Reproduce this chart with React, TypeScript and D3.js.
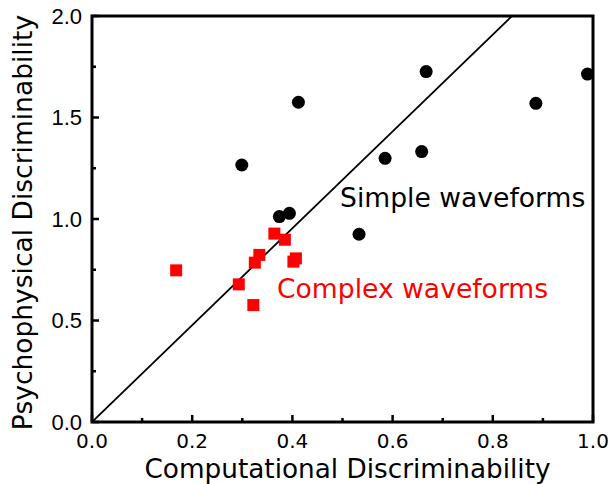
import React from "react";
import * as d3 from "d3";

// Simple waveforms: [computational, psychophysical]
const simpleX = [0.299, 0.412, 0.667, 0.989, 0.886, 0.585, 0.658, 0.374, 0.394, 0.533];
const simpleY = [1.266, 1.575, 1.726, 1.714, 1.57, 1.299, 1.332, 1.012, 1.028, 0.925];

// Complex waveforms
const complexX = [0.168, 0.364, 0.385, 0.334, 0.325, 0.407, 0.402, 0.293, 0.322];
const complexY = [0.747, 0.928, 0.898, 0.823, 0.785, 0.806, 0.79, 0.678, 0.576];

const xMajor = [0, 0.2, 0.4, 0.6, 0.8, 1.0];
const xMinor = [0.1, 0.3, 0.5, 0.7, 0.9];
const yMajor = [0, 0.5, 1.0, 1.5, 2.0];
const yMinor = [0.25, 0.75, 1.25, 1.75];

// fitted line through the origin
const fitSlope = 2.386;

const W = 610;
const H = 484;
const M = { left: 92, right: 17, top: 16, bottom: 62 };

export default function App() {
  const x = d3.scaleLinear().domain([0, 1]).range([M.left, W - M.right]);
  const y = d3.scaleLinear().domain([0, 2]).range([H - M.bottom, M.top]);
  const x0 = x.range()[0], x1 = x.range()[1];
  const y0 = y.range()[0], y1 = y.range()[1];
  const fitEnd = Math.min(1, 2 / fitSlope);
  const line = d3.line<number>().x((d) => x(d)).y((d) => y(d * fitSlope));
  const yTickFont = "'Liberation Sans', Arial, sans-serif";
  const font = "'DejaVu Sans', Verdana, sans-serif";
  const sq = 12;

  return (
    <svg width={W} height={H} style={{ position: "absolute", left: 0, top: 0, background: "#fff" }}>
      <defs>
        <clipPath id="plot">
          <rect x={x0} y={y1} width={x1 - x0} height={y0 - y1} />
        </clipPath>
      </defs>
      <path d={line([0, fitEnd]) || ""} stroke="#000" strokeWidth={1.8} fill="none" clipPath="url(#plot)" />

      {complexX.map((v, i) => (
        <rect key={"c" + i} x={x(v) - sq / 2} y={y(complexY[i]) - sq / 2} width={sq} height={sq} fill="#ff0000" />
      ))}
      {simpleX.map((v, i) => (
        <circle key={"s" + i} cx={x(v)} cy={y(simpleY[i])} r={6.5} fill="#000" />
      ))}

      {/* frame */}
      <rect x={x0} y={y1} width={x1 - x0} height={y0 - y1} fill="none" stroke="#000" strokeWidth={3} />

      {/* x ticks */}
      {xMajor.map((t) => (
        <g key={"xm" + t}>
          <line x1={x(t)} x2={x(t)} y1={y0} y2={y0 - 7} stroke="#000" strokeWidth={2.5} />
          <text x={x(t)} y={y0 + 26} textAnchor="middle" fontFamily={font} fontSize={20} fill="#000">
            {t.toFixed(1)}
          </text>
        </g>
      ))}
      {xMinor.map((t) => (
        <line key={"xn" + t} x1={x(t)} x2={x(t)} y1={y0} y2={y0 - 4} stroke="#000" strokeWidth={2.5} />
      ))}

      {/* y ticks */}
      {yMajor.map((t) => (
        <g key={"ym" + t}>
          <line x1={x0} x2={x0 + 7} y1={y(t)} y2={y(t)} stroke="#000" strokeWidth={2.5} />
          <text x={x0 - 10} y={y(t) + 7.5} textAnchor="end" fontFamily={yTickFont} fontSize={22} fill="#000">
            {t.toFixed(1)}
          </text>
        </g>
      ))}
      {yMinor.map((t) => (
        <line key={"yn" + t} x1={x0} x2={x0 + 4} y1={y(t)} y2={y(t)} stroke="#000" strokeWidth={2.5} />
      ))}

      {/* series labels */}
      <text x={340} y={206.5} fontFamily={font} fontSize={26.6} fill="#000">Simple waveforms</text>
      <text x={277} y={298} fontFamily={font} fontSize={26.6} fill="#ff0000">Complex waveforms</text>

      {/* axis titles */}
      <text x={347.5} y={477.5} textAnchor="middle" fontFamily={font} fontSize={26.3} fill="#000">
        Computational Discriminability
      </text>
      <text
        transform={`translate(32, 222.5) rotate(-90)`}
        textAnchor="middle"
        fontFamily={font}
        fontSize={26.5}
        fill="#000"
      >
        Psychophysical Discriminability
      </text>
    </svg>
  );
}
